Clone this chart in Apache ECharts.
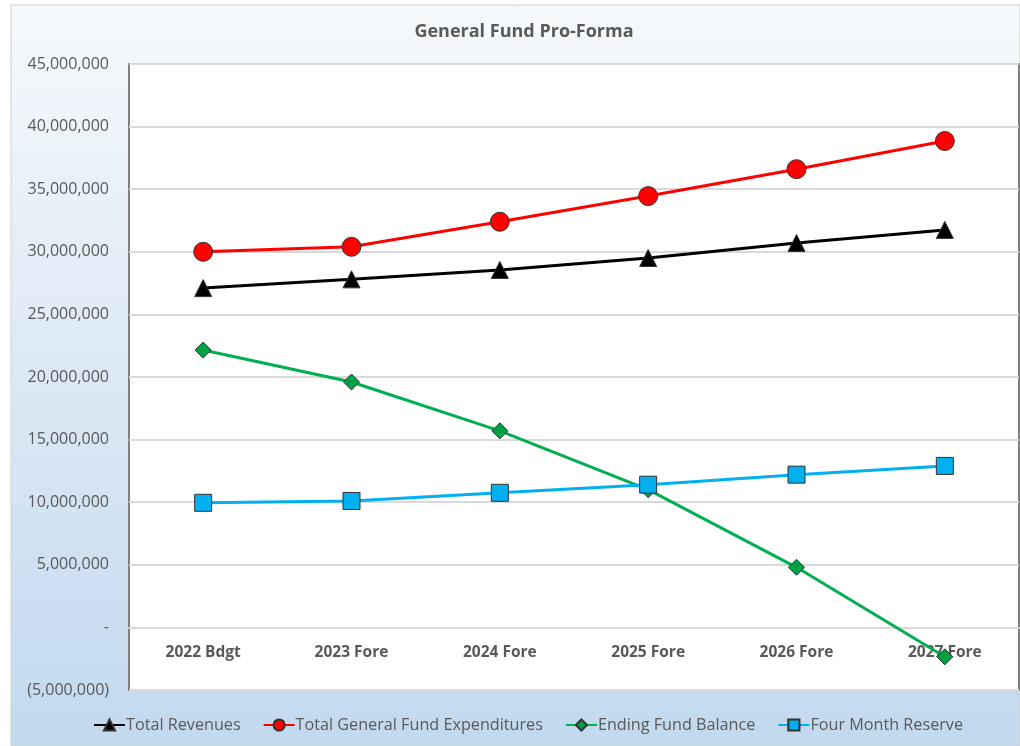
<!DOCTYPE html>
<html><head><meta charset="utf-8">
<script src="https://cdn.jsdelivr.net/npm/echarts@6/dist/echarts.min.js"></script>
<style>html,body{margin:0;padding:0;background:#fff;}#c{width:1020px;height:746px;}</style>
</head><body><div id="c"></div>
<script>
const categories = ['2022 Bdgt','2023 Fore','2024 Fore','2025 Fore','2026 Fore','2027 Fore'];
const totalRevenues = [27100000, 27800000, 28550000, 29500000, 30700000, 31750000];
const totalExpenditures = [30000000, 30400000, 32400000, 34450000, 36600000, 38850000];
const endingFundBalance = [22150000, 19600000, 15700000, 11000000, 4800000, -2350000];
const fourMonthReserve = [9950000, 10100000, 10750000, 11400000, 12200000, 12900000];
const yMin = -5000000, yMax = 45000000, yStep = 5000000;

const FONT = 'Open Sans';
const TXT = '#595959';
function fmt(v){
  if (v === 0) return '-';
  const s = Math.abs(v).toString().replace(/\B(?=(\d{3})+(?!\d))/g, ',');
  return v < 0 ? '(' + s + ')' : s;
}
const gridTop = 64, gridBottom = 56, H = 746;
const plotH = H - gridTop - gridBottom;
const zeroOffset = -plotH * (0 - yMin) / (yMax - yMin);

const chart = echarts.init(document.getElementById('c'), null, {renderer:'canvas'});
function mkSeries(name, data, color, symbol, size, fill){
  return {
    name, type:'line', data, symbol, symbolSize:size,
    lineStyle:{color, width:3},
    itemStyle:{color:fill, borderColor:'#333', borderWidth:1},
    emphasis:{disabled:true}, z: 3
  };
}
chart.setOption({
  animation:false,
  textStyle:{fontFamily:FONT},
  graphic:[{type:'rect', z:-10, silent:true, shape:{x:11,y:5,width:1009,height:741},
    style:{fill:new echarts.graphic.LinearGradient(0,0,0,1,[{offset:0,color:'#f6f9fc'},{offset:1,color:'#c2d9ee'}]), stroke:'#d0d0d0', lineWidth:1}}],
  title:{text:'General Fund Pro-Forma', left:519, top:18, textAlign:'center',
    textStyle:{fontFamily:FONT, fontSize:18, fontWeight:'bold', color:TXT}},
  grid:{left:129, right:1, top:gridTop, bottom:gridBottom, show:true, backgroundColor:'#fff', borderColor:'#7f7f7f', borderWidth:2, containLabel:false},
  legend:{left:88, top:712, itemWidth:31, itemHeight:14, itemGap:22,
    textStyle:{fontFamily:FONT, fontSize:16.2, color:TXT, padding:[0,0,0,-4]},
    data:['Total Revenues','Total General Fund Expenditures','Ending Fund Balance','Four Month Reserve']},
  xAxis:{type:'category', data:categories, boundaryGap:true, offset:zeroOffset,
    axisLine:{show:true, onZero:false, lineStyle:{color:'#d9d9d9', width:2}},
    axisTick:{show:false},
    axisLabel:{fontFamily:FONT, fontSize:15.5, fontWeight:'bold', color:TXT, margin:17}},
  yAxis:{type:'value', min:yMin, max:yMax, interval:yStep,
    axisLine:{show:false}, axisTick:{show:false},
    splitLine:{lineStyle:{color:'#d9d9d9', width:2}},
    axisLabel:{fontFamily:FONT, fontSize:16, color:TXT, margin:20, formatter:fmt}},
  series:[
    mkSeries('Total Revenues', totalRevenues, '#000000', 'triangle', 17, '#000000'),
    mkSeries('Total General Fund Expenditures', totalExpenditures, '#ff0000', 'circle', 19, '#ff0000'),
    mkSeries('Ending Fund Balance', endingFundBalance, '#00b050', 'diamond', 16, '#00a045'),
    mkSeries('Four Month Reserve', fourMonthReserve, '#00b0f0', 'rect', 17, '#00b0f0')
  ]
});
</script></body></html>
